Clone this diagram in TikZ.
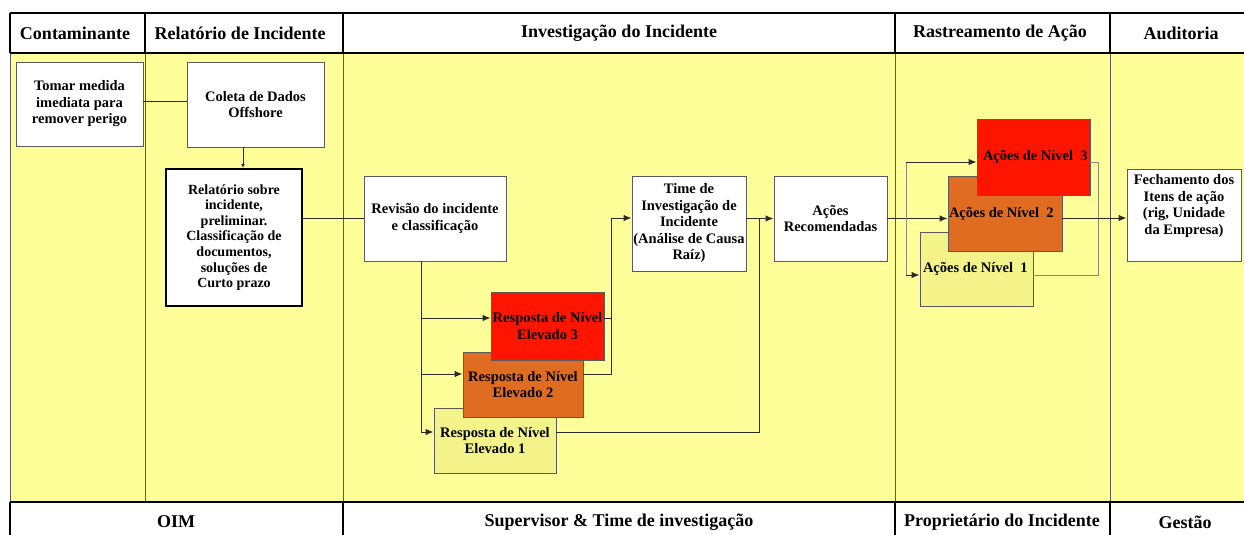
\documentclass[tikz,border=0pt]{standalone}
\usepackage{fontspec}
\setmainfont{Liberation Serif}
\usetikzlibrary{arrows.meta}
\definecolor{yel}{HTML}{FFFF99}
\definecolor{lvred}{HTML}{FF1400}
\definecolor{lvorange}{HTML}{DF6C20}
\definecolor{lvlight}{HTML}{F3F38A}
\definecolor{bordgray}{HTML}{5A5A5A}
\definecolor{linedark}{HTML}{2A2A2A}
\definecolor{loopgray}{HTML}{8A8A70}
\begin{document}
\begin{tikzpicture}[x=1pt,y=-1pt,
  box/.style={draw=bordgray, fill=white, line width=0.9pt, inner sep=0pt, align=center,
    font=\fontsize{14.5}{16.5}\selectfont\bfseries},
  hdr/.style={font=\fontsize{18}{20}\selectfont\bfseries, inner sep=0pt},
  conn/.style={draw=linedark, line width=1pt},
  arr/.style={conn, -{Latex[length=8pt,width=6.5pt]}},
  gconn/.style={draw=loopgray, line width=1pt},
  garr/.style={draw=linedark, line width=1pt, -{Latex[length=8pt,width=6.5pt]}},
  hline/.style={draw=black, line width=1.6pt},
  colline/.style={draw=bordgray, line width=0.8pt}
]
\useasboundingbox (0,0) rectangle (1244,535);
% background areas
\fill[white] (0,0) rectangle (1244,535);
\fill[yel] (10,53) rectangle (1244,502);
% column lines in yellow area
\foreach \xx in {10,145,343,895,1110} \draw[colline] (\xx,53) -- (\xx,502);
% header
\draw[hline] (10,13) -- (1244,13);
\draw[hline] (10,53) -- (1244,53);
\foreach \xx in {10,145,343,895,1110} \draw[hline] (\xx,13) -- (\xx,53);
\node[hdr] (h1) at (75,33) {Contaminante};
\node[hdr] (h2) at (240,33) {Relatório de Incidente};
\node[hdr] (h3) at (619,33) {Investigação do Incidente};
\node[hdr] (h4) at (1000,33) {Rastreamento de Ação};
\node[hdr] (h5) at (1181,33) {Auditoria};
% footer
\draw[hline] (10,502) -- (1244,502);
\draw[black, line width=2pt] (10,502) -- (10,535);
\draw[black, line width=1.2pt] (343,502) -- (343,535);
\draw[black, line width=2.4pt] (895,502) -- (895,535);
\draw[black, line width=2.4pt] (1110,502) -- (1110,535);
\node[hdr] (f1) at (176,522) {OIM};
\node[hdr] (f2) at (619,522) {Supervisor \& Time de investigação};
\node[hdr] (f3) at (1002,522) {Proprietário do Incidente};
\node[hdr] (f4) at (1185,522) {Gestão};
% boxes
\node[box, minimum width=127pt, minimum height=84pt] (tomar) at (79.5,104)
  {Tomar medida\\imediata para\\remover perigo};
\node[box, minimum width=137pt, minimum height=85pt] (coleta) at (255.5,104.5)
  {Coleta de Dados\\Offshore};
\node[box, draw=black, line width=2.4pt, minimum width=136pt, minimum height=137pt,
  font=\fontsize{14}{15.6}\selectfont\bfseries] (relat) at (234,237.5)
  {Relatório sobre\\incidente,\\preliminar.\\Classificação de\\documentos,\\soluções de\\Curto prazo};
\node[box, minimum width=142pt, minimum height=85pt] (revisao) at (435,218.5)
  {Revisão do incidente\\e classificação};
\node[box, minimum width=114pt, minimum height=95pt] (time) at (689,223.5)
  {Time de\\Investigação de\\Incidente\\(Análise de Causa\\Raíz)};
\node[box, minimum width=113pt, minimum height=85pt] (acrec) at (830.5,218.5)
  {Ações\\Recomendadas};
\node[box, fill=lvlight, minimum width=122pt, minimum height=65pt] (r1) at (495,440.5)
  {Resposta de Nível\\Elevado 1};
\node[box, fill=lvorange, minimum width=120pt, minimum height=65pt] (r2) at (523,384.5)
  {Resposta de Nível\\Elevado 2};
\node[box, fill=lvred, minimum width=113pt, minimum height=68pt] (r3) at (547.5,326)
  {Resposta de Nível\\Elevado 3};
\node[box, fill=lvlight, minimum height=74pt] (a1) at (976.5,269)
  {\makebox[113pt][l]{\hspace*{3pt}Ações de Nível~~1}};
\node[box, fill=lvorange, minimum height=75pt] (a2) at (1005,213.5)
  {\makebox[114pt][l]{\hspace*{1pt}Ações de Nível~~2}};
\node[box, fill=lvred, minimum height=76pt] (a3) at (1033.5,157)
  {\raisebox{2pt}{\makebox[113pt][l]{\hspace*{6pt}Ações de Nível~~3}}};
\node[box, minimum width=114pt, minimum height=92pt] (fech) at (1184,215)
  {\raisebox{9pt}[\height][\depth]{\begin{tabular}{@{}c@{}}Fechamento dos\\Itens de ação\\(rig, Unidade\\da Empresa)\end{tabular}}};
% connectors
\draw[conn] ([yshift=3pt]tomar.east) -- ([yshift=3pt]tomar.east -| coleta.west);
\draw[arr, -{Latex[length=4pt,width=4pt]}] ([xshift=-12.5pt]coleta.south) -- ([xshift=-12.5pt]coleta.south |- relat.north);
\draw[conn] (revisao.west -| relat.east) -- (revisao.west);
\coordinate (rv) at ([xshift=-14pt]revisao.south);
\coordinate (r1in) at ([yshift=8.5pt]r1.west);
\coordinate (r2in) at ([yshift=10.5pt]r2.west);
\coordinate (r3in) at ([yshift=8pt]r3.west);
\draw[arr] (rv) |- (r1in);
\draw[arr] (rv |- r2in) -- (r2in);
\draw[arr] (rv |- r3in) -- (r3in);
\coordinate (tin) at ([yshift=5.5pt]time.west);
\coordinate (j1) at ([xshift=-20pt]tin);
\draw[arr] ([yshift=10.5pt]r2.east) -| (j1) -- (tin);
\draw[conn] ([yshift=8pt]r3.east) -- ([yshift=8pt]r3.east -| j1);
\coordinate (ain) at (acrec.west);
\coordinate (j2) at ([xshift=-14pt]ain);
\draw[conn] ([yshift=8.5pt]r1.east) -| (j2);
\draw[arr] (ain -| time.east) -- (ain);
\draw[arr] (acrec.east) -- (acrec.east -| a2.west);
\coordinate (j3) at ([xshift=19pt]acrec.east);
\coordinate (a3in) at ([yshift=-5pt]a3.west);
\coordinate (a1in) at ([yshift=-6pt]a1.west);
\draw[gconn] (a1in -| j3) -- (a3in -| j3);
\draw[garr] (a3in -| j3) -- (a3in);
\draw[garr] (a1in -| j3) -- (a1in);
\coordinate (a1out) at ([yshift=-6pt]a1.east);
\draw[gconn] ([yshift=-5pt]a3.east) -| ([xshift=65pt]a1out) -- (a1out);
\draw[arr] ([yshift=-4.5pt]a2.east) -- ([yshift=-4.5pt]a2.east -| fech.west);
\end{tikzpicture}
\end{document}
